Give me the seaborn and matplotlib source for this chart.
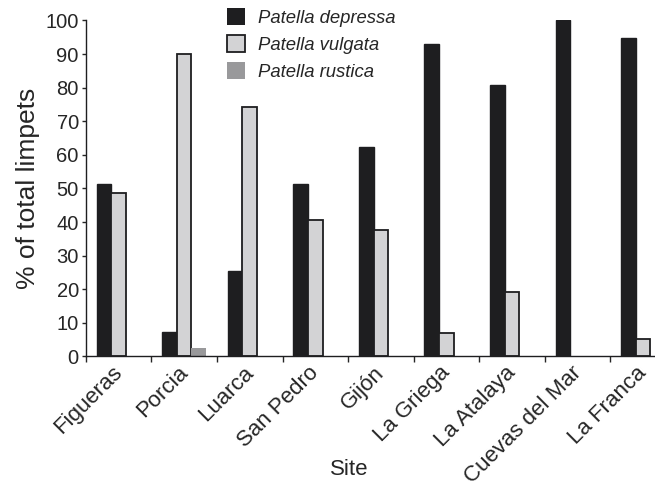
import numpy as np
import pandas as pd
import seaborn as sns
import matplotlib.pyplot as plt
import matplotlib.transforms as mtransforms
from matplotlib.patches import Patch

sites = ['Figueras', 'Porcia', 'Luarca', 'San Pedro', 'Gijón',
         'La Griega', 'La Atalaya', 'Cuevas del Mar', 'La Franca']
species = ['Patella depressa', 'Patella vulgata', 'Patella rustica']
depressa = [51.3, 7.4, 25.5, 51.3, 62.4, 93.1, 80.9, 100.0, 94.8]
vulgata = [48.7, 90.0, 74.3, 40.6, 37.6, 7.1, 19.1, 0.0, 5.1]
rustica = [0.0, 2.4, 0.0, 0.0, 0.0, 0.0, 0.0, 0.0, 0.0]
colors = ['#1e1e20', '#d3d3d5', '#99999b']


def main():
    sns.set_style('ticks')
    plt.rcParams['font.family'] = ['Liberation Sans', 'DejaVu Sans']

    df = pd.DataFrame({
        'Site': sites * 3,
        'Species': np.repeat(species, len(sites)),
        'pct': depressa + vulgata + rustica,
    })

    fig = plt.figure(figsize=(6.55, 4.87), dpi=100)
    ax = fig.add_axes([0.131, 0.268, 0.901, 0.690])

    sns.barplot(data=df, x='Site', y='pct', hue='Species',
                order=sites, hue_order=species, palette=colors,
                width=0.67, saturation=1, errorbar=None, legend=False, ax=ax)

    # edges: black outline on depressa/vulgata, none on rustica
    for cont, ec, lw in zip(ax.containers, ['#1e1e20', '#1e1e20', 'none'], [1.0, 1.3, 0]):
        for bar in cont:
            bar.set_edgecolor(ec)
            bar.set_linewidth(lw)
            if bar.get_height() == 0:
                bar.set_visible(False)

    ax.set_xlim(-0.5, len(sites) - 0.5)
    ax.set_ylim(0, 100)
    ax.set_yticks(range(0, 101, 10))
    ax.tick_params(axis='y', labelsize=14.5, length=3, width=1, pad=2)

    ax.set_xticks(range(len(sites)))
    ax.tick_params(axis='x', which='major', length=0, pad=4)
    ax.set_xticks(np.arange(-0.5, len(sites), 1.0), minor=True)
    ax.tick_params(axis='x', which='minor', length=4, width=1)
    ax.set_xticklabels(sites, rotation=45, ha='right', va='top',
                       rotation_mode='anchor', fontsize=16)

    sns.despine(ax=ax)
    for s in ['left', 'bottom']:
        ax.spines[s].set_linewidth(1.0)
        ax.spines[s].set_color('#1e1e20')

    ax.set_ylabel('% of total limpets', fontsize=19, labelpad=4)
    ax.set_xlabel('Site', fontsize=16)
    ax.xaxis.set_label_coords(0.446, -0.305)

    # nudge rotated site labels a little to the left
    shift = mtransforms.ScaledTranslation(-7 / 100, 0, fig.dpi_scale_trans)
    for tick in ax.xaxis.get_major_ticks():
        tick.label1.set_transform(tick.label1.get_transform() + shift)

    handles = [Patch(facecolor=colors[0], edgecolor='none'),
               Patch(facecolor=colors[1], edgecolor='#1e1e20', linewidth=1.3),
               Patch(facecolor=colors[2], edgecolor='none')]
    fig.legend(handles, species, loc='upper left', bbox_to_anchor=(0.335, 0.998),
               frameon=False, prop={'style': 'italic', 'size': 13.3},
               handlelength=1.0, handleheight=1.0, handletextpad=0.7,
               labelspacing=0.45, borderaxespad=0)

    plt.savefig('out.png', dpi=100)


if __name__ == '__main__':
    main()
